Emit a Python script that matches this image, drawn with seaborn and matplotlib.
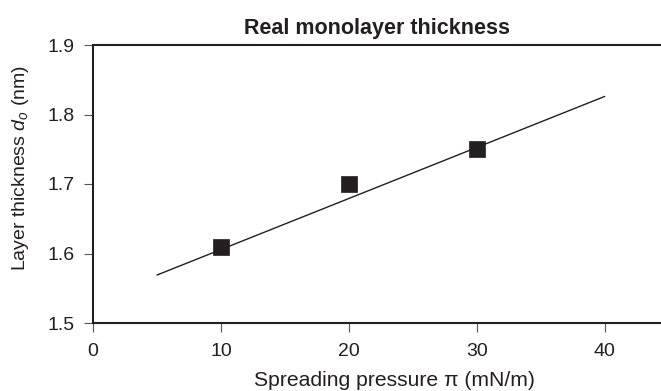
import matplotlib
matplotlib.use("Agg")
import matplotlib.pyplot as plt
import seaborn as sns
import pandas as pd

# Data
pressure = [10, 20, 30]
thickness = [1.61, 1.70, 1.75]
fit_x = [5, 40]
fit_y = [1.569, 1.826]
x_ticks = [0, 10, 20, 30, 40]
y_ticks = [1.5, 1.6, 1.7, 1.8, 1.9]

sns.set_style("ticks")
plt.rcParams['font.family'] = ['Liberation Sans', 'DejaVu Sans']
plt.rcParams['mathtext.fontset'] = 'custom'
plt.rcParams['mathtext.rm'] = 'Liberation Sans'
plt.rcParams['mathtext.it'] = 'Liberation Sans:italic'

fig = plt.figure(figsize=(6.61, 3.91), dpi=100)
ax = fig.add_axes([93/661, 1 - 323/391, 1 - 93/661, (323 - 45)/391])

ink = '#231f20'
pts = pd.DataFrame({'x': pressure, 'y': thickness})
fit = pd.DataFrame({'x': fit_x, 'y': fit_y})
sns.lineplot(data=fit, x='x', y='y', ax=ax, color=ink, linewidth=1.0)
sns.scatterplot(data=pts, x='x', y='y', ax=ax, marker='s', s=125, color=ink,
                edgecolor=ink, linewidth=0.5, zorder=3)

ax.set_xlim(0, 44.4)
ax.set_ylim(1.5, 1.9)
ax.set_xticks(x_ticks)
ax.set_xticklabels([str(t) for t in x_ticks])
ax.set_yticks(y_ticks)
ax.set_yticklabels([f"{t:.1f}" for t in y_ticks])

for side in ['left', 'bottom', 'top']:
    ax.spines[side].set_visible(True)
    ax.spines[side].set_linewidth(1.5)
    ax.spines[side].set_color(ink)
ax.spines['right'].set_visible(False)
ax.tick_params(axis='both', direction='out', length=6.5, width=0.8,
               color='#555555', labelsize=14, labelcolor=ink)
ax.tick_params(axis='y', pad=6.5)
ax.tick_params(axis='x', top=False, pad=8)

ax.set_xlabel("Spreading pressure π (mN/m)", fontsize=15.2, color=ink)
ax.xaxis.set_label_coords(0.531, -0.172)
ax.set_ylabel(r"Layer thickness $d_o$ (nm)", fontsize=14, color=ink)
ax.yaxis.set_label_coords(-0.11, 0.559)
ax.set_title("Real monolayer thickness", fontsize=15.5, fontweight='bold', color=ink, pad=8)

fig.savefig("out.png", dpi=100)
